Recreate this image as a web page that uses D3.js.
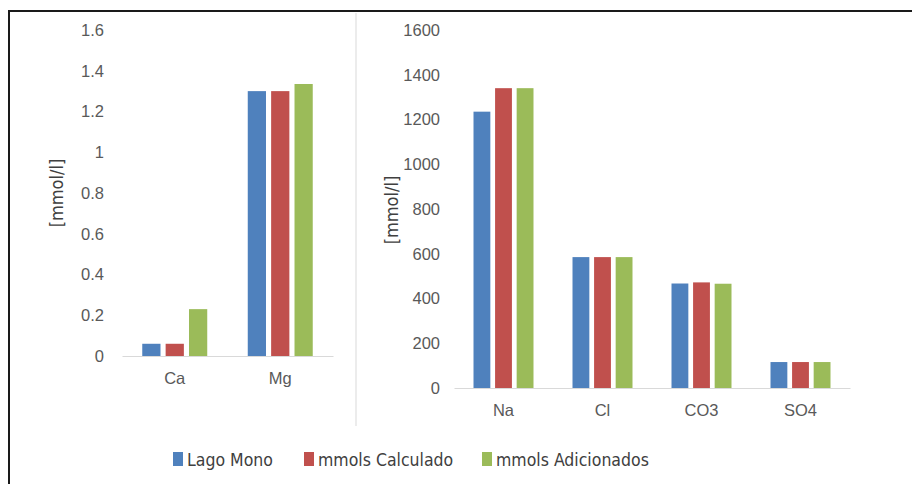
<!DOCTYPE html>
<html lang="en">
<head>
  <meta charset="UTF-8" />
  <title>Lago Mono</title>
  <style>
    body { margin: 0; background: #fff; }
    svg { display: block; font-family: "Liberation Sans Narrow", "DejaVu Sans Condensed", Arial, sans-serif; }
    .tick text { fill: #595959; }
  </style>
</head>
<body>
  <div id="chart"></div>

  <script src="https://cdnjs.cloudflare.com/ajax/libs/d3/7.8.4/d3.min.js"></script>
  <script>
    const width = 912, height = 484;

    // data
    const series = ["Lago Mono", "mmols Calculado", "mmols Adicionados"];
    const colors = ["#4F81BD", "#C0504D", "#9BBB59"];

    const leftCats = ["Ca", "Mg"];
    const leftLago = [0.06, 1.30];
    const leftCalc = [0.06, 1.30];
    const leftAdic = [0.23, 1.335];
    const leftTicks = [0, 0.2, 0.4, 0.6, 0.8, 1, 1.2, 1.4, 1.6];

    const rightCats = ["Na", "Cl", "CO3", "SO4"];
    const rightLago = [1235, 585, 467, 116];
    const rightCalc = [1340, 585, 472, 116];
    const rightAdic = [1340, 585, 466, 116];
    const rightTicks = [0, 200, 400, 600, 800, 1000, 1200, 1400, 1600];

    const yTitle = "[mmol/l]";

    const svg = d3.select("#chart").append("svg").attr("width", width).attr("height", height);

    // frame (runs off the right and bottom edge like the screenshot)
    svg.append("rect")
      .attr("x", 9).attr("y", 11)
      .attr("width", width + 20).attr("height", height + 20)
      .attr("fill", "none").attr("stroke", "#1a1a1a").attr("stroke-width", 2);

    // divider between the two charts
    svg.append("line")
      .attr("x1", 356).attr("x2", 356).attr("y1", 13).attr("y2", 426)
      .attr("stroke", "#d9d9d9");

    function drawPanel(cats, vals, ticks, opt) {
      const g = svg.append("g");
      const y = d3.scaleLinear().domain([0, ticks[ticks.length - 1]]).range([opt.bottom, opt.top]);
      const x = d3.scaleBand().domain(cats).range([opt.left, opt.right])
        .paddingInner(opt.pad).paddingOuter(opt.pad / 2);
      const xs = d3.scaleBand().domain(series).range([0, x.bandwidth()]).paddingInner(0.22);

      // y axis labels
      g.append("g")
        .attr("transform", `translate(${opt.left},0)`)
        .call(d3.axisLeft(y).tickValues(ticks).tickSize(0).tickPadding(opt.tickPad).tickFormat(d3.format("")))
        .call(a => a.select(".domain").remove())
        .selectAll("text").attr("font-size", 16.5).attr("font-family", null);

      // bars
      cats.forEach((c, i) => {
        series.forEach((s, j) => {
          g.append("rect")
            .attr("x", x(c) + xs(s))
            .attr("y", y(vals[j][i]))
            .attr("width", xs.bandwidth())
            .attr("height", y(0) - y(vals[j][i]))
            .attr("fill", colors[j]);
        });
      });

      // x axis
      g.append("g")
        .attr("transform", `translate(0,${opt.bottom})`)
        .call(d3.axisBottom(x).tickSize(0).tickPadding(opt.catPad))
        .call(a => a.select(".domain").attr("stroke", "#d9d9d9"))
        .selectAll("text").attr("font-size", 16.5).attr("font-family", null);

      g.append("text")
        .attr("transform", `translate(${opt.titleX},${opt.titleY}) rotate(-90)`)
        .attr("text-anchor", "middle")
        .attr("dy", "0.35em")
        .attr("font-size", 18)
        .attr("fill", "#404040")
        .text(yTitle);
    }

    drawPanel(leftCats, [leftLago, leftCalc, leftAdic], leftTicks,
      { left: 122, right: 333, top: 30, bottom: 356, pad: 0.384, tickPad: 18, catPad: 16, titleX: 57, titleY: 193 });

    drawPanel(rightCats, [rightLago, rightCalc, rightAdic], rightTicks,
      { left: 454, right: 850, top: 30, bottom: 388, pad: 0.394, tickPad: 14, catPad: 16, titleX: 392, titleY: 210 });

    // legend
    const legendX = [173, 304, 482];
    const legend = svg.append("g");
    series.forEach((s, i) => {
      legend.append("rect")
        .attr("x", legendX[i]).attr("y", 452)
        .attr("width", 10).attr("height", 14)
        .attr("fill", colors[i]);
      legend.append("text")
        .attr("x", legendX[i] + 14).attr("y", 466)
        .attr("font-size", 17.5)
        .attr("fill", "#404040")
        .text(s);
    });
  </script>
</body>
</html>
